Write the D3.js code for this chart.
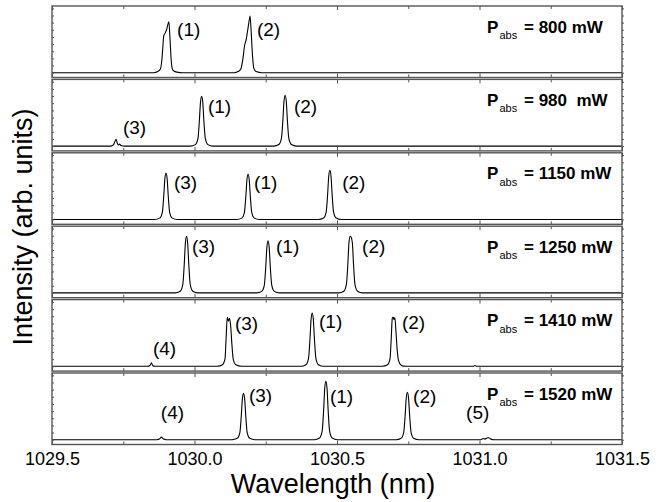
<!DOCTYPE html>
<html>
<head>
<meta charset="utf-8">
<script src="https://cdn.jsdelivr.net/npm/d3@7"></script>
<style>
  body { margin: 0; background: #fff; }
  svg { display: block; font-family: "Liberation Sans", Arial, sans-serif; }
</style>
</head>
<body>
<svg id="chart" width="667" height="502"></svg>
<script>
// Absorbed pump powers, one stacked panel each (top to bottom)
const powerLabels = ["800 mW", "980  mW", "1150 mW", "1250 mW", "1410 mW", "1520 mW"];

// Wavelength axis ticks
const xMajorTicks = [1029.5, 1030.0, 1030.5, 1031.0, 1031.5];
const xMinorTicks = [1029.75, 1030.25, 1030.75, 1031.25];
const xTickLabels = ["1029.5", "1030.0", "1030.5", "1031.0", "1031.5"];
const yTicks = [0, 0.125, 0.25, 0.375, 0.5, 0.625, 0.75, 0.875, 1.0, 1.125];

// Emission spectra: [wavelength (nm), intensity (arb. units)]
const spectrum800 = [
  [1029.5, 0],
  [1029.857, 0], [1029.871, 0.02], [1029.880, 0.06], [1029.885, 0.2], [1029.889, 0.45],
  [1029.892, 0.64], [1029.898, 0.70], [1029.903, 0.77], [1029.9065, 0.84], [1029.910, 0.89],
  [1029.914, 0.6], [1029.9185, 0.2], [1029.922, 0.07], [1029.9275, 0.03], [1029.938, 0.01], [1029.959, 0],
  [1030.139, 0], [1030.153, 0.02], [1030.163, 0.07], [1030.170, 0.25], [1030.176, 0.48],
  [1030.181, 0.57], [1030.186, 0.72], [1030.1915, 0.9], [1030.195, 0.99], [1030.199, 0.7],
  [1030.2035, 0.3], [1030.208, 0.08], [1030.216, 0.02], [1030.237, 0],
  [1031.5, 0]
];
const spectrum980 = [
  [1029.5, 0],
  [1029.705, 0], [1029.715, 0.02], [1029.72, 0.07], [1029.725, 0.12], [1029.729, 0.05],
  [1029.733, 0.02], [1029.737, 0.035], [1029.742, 0.01], [1029.755, 0],
  [1029.985, 0], [1030.003, 0.026], [1030.012, 0.13], [1030.017, 0.435], [1030.021, 0.766], [1030.025, 0.87],
  [1030.029, 0.766], [1030.033, 0.435], [1030.038, 0.13], [1030.047, 0.026], [1030.065, 0],
  [1030.278, 0], [1030.296, 0.027], [1030.305, 0.134], [1030.31, 0.445], [1030.314, 0.783], [1030.318, 0.89],
  [1030.322, 0.783], [1030.326, 0.445], [1030.331, 0.134], [1030.34, 0.027], [1030.358, 0],
  [1031.5, 0]
];
const spectrum1150 = [
  [1029.5, 0],
  [1029.86, 0], [1029.878, 0.024], [1029.887, 0.12], [1029.892, 0.405], [1029.896, 0.713], [1029.9, 0.81],
  [1029.904, 0.713], [1029.908, 0.405], [1029.913, 0.12], [1029.922, 0.024], [1029.94, 0],
  [1030.148, 0], [1030.166, 0.024], [1030.175, 0.119], [1030.18, 0.395], [1030.184, 0.695], [1030.188, 0.79],
  [1030.192, 0.695], [1030.196, 0.395], [1030.201, 0.119], [1030.21, 0.024], [1030.228, 0],
  [1030.435, 0], [1030.453, 0.026], [1030.462, 0.129], [1030.467, 0.43], [1030.471, 0.757], [1030.475, 0.86],
  [1030.479, 0.757], [1030.483, 0.43], [1030.488, 0.129], [1030.497, 0.026], [1030.515, 0],
  [1031.5, 0]
];
const spectrum1250 = [
  [1029.5, 0],
  [1029.932, 0], [1029.95, 0.03], [1029.959, 0.149], [1029.964, 0.495], [1029.968, 0.871], [1029.972, 0.99],
  [1029.976, 0.871], [1029.98, 0.495], [1029.985, 0.149], [1029.994, 0.03], [1030.012, 0],
  [1030.218, 0], [1030.236, 0.027], [1030.245, 0.137], [1030.25, 0.455], [1030.254, 0.8], [1030.258, 0.91],
  [1030.262, 0.8], [1030.266, 0.455], [1030.271, 0.137], [1030.28, 0.027], [1030.298, 0],
  [1030.506, 0], [1030.524, 0.03], [1030.533, 0.149], [1030.538, 0.495], [1030.542, 0.88], [1030.546, 0.99],
  [1030.55, 0.97], [1030.554, 0.871], [1030.558, 0.495], [1030.563, 0.149], [1030.572, 0.03], [1030.59, 0],
  [1031.5, 0]
];
const spectrum1410 = [
  [1029.5, 0],
  [1029.835, 0], [1029.844, 0.015], [1029.849, 0.06], [1029.853, 0.015], [1029.862, 0],
  [1030.08, 0], [1030.098, 0.026], [1030.107, 0.13], [1030.111, 0.5], [1030.115, 0.86], [1030.119, 0.79],
  [1030.123, 0.84], [1030.127, 0.7], [1030.131, 0.4], [1030.136, 0.12], [1030.145, 0.026], [1030.165, 0],
  [1030.373, 0], [1030.391, 0.028], [1030.4, 0.14], [1030.405, 0.465], [1030.409, 0.818], [1030.413, 0.93],
  [1030.417, 0.818], [1030.421, 0.465], [1030.426, 0.14], [1030.435, 0.028], [1030.453, 0],
  [1030.659, 0], [1030.677, 0.026], [1030.686, 0.13], [1030.69, 0.45], [1030.694, 0.84], [1030.697, 0.86],
  [1030.7, 0.82], [1030.703, 0.85], [1030.707, 0.6], [1030.711, 0.3], [1030.716, 0.1], [1030.725, 0.02], [1030.74, 0],
  [1030.978, 0], [1030.984, 0.015], [1030.99, 0],
  [1031.5, 0]
];
const spectrum1520 = [
  [1029.5, 0],
  [1029.868, 0], [1029.878, 0.015], [1029.884, 0.045], [1029.89, 0.015], [1029.9, 0],
  [1030.132, 0], [1030.15, 0.024], [1030.159, 0.12], [1030.164, 0.405], [1030.168, 0.713], [1030.172, 0.81],
  [1030.176, 0.713], [1030.18, 0.405], [1030.185, 0.12], [1030.194, 0.024], [1030.212, 0],
  [1030.421, 0], [1030.439, 0.03], [1030.448, 0.153], [1030.453, 0.51], [1030.457, 0.898], [1030.461, 1.02],
  [1030.465, 0.898], [1030.469, 0.51], [1030.474, 0.153], [1030.483, 0.03], [1030.501, 0],
  [1030.707, 0], [1030.725, 0.025], [1030.734, 0.125], [1030.739, 0.415], [1030.743, 0.73], [1030.747, 0.83],
  [1030.751, 0.73], [1030.755, 0.415], [1030.76, 0.125], [1030.769, 0.025], [1030.787, 0],
  [1031.005, 0], [1031.013, 0.02], [1031.019, 0.01], [1031.026, 0.03], [1031.032, 0.035], [1031.04, 0.01], [1031.05, 0],
  [1031.5, 0]
];

// Line labels: [text, wavelength at label start, intensity at label baseline]
const labels800  = [["(1)", 1029.939, 0.65], ["(2)", 1030.219, 0.65]];
const labels980  = [["(3)", 1029.749, 0.205], ["(1)", 1030.047, 0.57], ["(2)", 1030.349, 0.57]];
const labels1150 = [["(3)", 1029.928, 0.526], ["(1)", 1030.209, 0.526], ["(2)", 1030.518, 0.526]];
const labels1250 = [["(3)", 1029.991, 0.689], ["(1)", 1030.286, 0.689], ["(2)", 1030.588, 0.689]];
const labels1410 = [["(4)", 1029.854, 0.198], ["(3)", 1030.142, 0.643], ["(1)", 1030.437, 0.678], ["(2)", 1030.728, 0.652]];
const labels1520 = [["(4)", 1029.882, 0.355], ["(3)", 1030.191, 0.659], ["(1)", 1030.475, 0.65], ["(2)", 1030.767, 0.65], ["(5)", 1030.953, 0.355]];

const spectra = [spectrum800, spectrum980, spectrum1150, spectrum1250, spectrum1410, spectrum1520];
const lineLabels = [labels800, labels980, labels1150, labels1250, labels1410, labels1520];

// Layout
const plotLeft = 52, plotRight = 622;
const panelTop0 = 6, panelStep = 73.4, panelH = 71.5;
const frameColor = "#555";

const svg = d3.select("#chart");

const x = d3.scaleLinear().domain([1029.5, 1031.5]).range([plotLeft, plotRight]);
const y = d3.scaleLinear().domain([-0.084, 1.166]).range([panelH, 0]);

const line = d3.line()
  .x(d => x(d[0]))
  .y(d => y(d[1]))
  .curve(d3.curveMonotoneX);

function styleAxis(g) {
  g.select(".domain").remove();
  g.selectAll(".tick line").attr("stroke", frameColor).attr("stroke-width", 1);
}

spectra.forEach((data, i) => {
  const top = panelTop0 + i * panelStep;
  const g = svg.append("g").attr("transform", `translate(0,${top})`);

  // spectrum trace
  g.append("path")
    .datum(data)
    .attr("fill", "none")
    .attr("stroke", "#000")
    .attr("stroke-width", 1.1)
    .attr("d", line);

  // inward ticks on top and bottom edges
  g.append("g")
    .call(d3.axisTop(x).tickValues(xMajorTicks).tickSize(-4).tickFormat(""))
    .call(styleAxis);
  g.append("g")
    .call(d3.axisTop(x).tickValues(xMinorTicks).tickSize(-3).tickFormat(""))
    .call(styleAxis);
  g.append("g")
    .attr("transform", `translate(0,${panelH})`)
    .call(d3.axisBottom(x).tickValues(xMajorTicks).tickSize(-4).tickFormat(""))
    .call(styleAxis);
  g.append("g")
    .attr("transform", `translate(0,${panelH})`)
    .call(d3.axisBottom(x).tickValues(xMinorTicks).tickSize(-3).tickFormat(""))
    .call(styleAxis);

  // small intensity ticks on the side edges
  g.append("g")
    .attr("transform", `translate(${plotLeft},0)`)
    .call(d3.axisLeft(y).tickValues(yTicks).tickSize(-2).tickFormat(""))
    .call(styleAxis);
  g.append("g")
    .attr("transform", `translate(${plotRight},0)`)
    .call(d3.axisRight(y).tickValues(yTicks).tickSize(2).tickFormat(""))
    .call(styleAxis);

  // panel frame
  g.append("rect")
    .attr("x", plotLeft).attr("y", 0)
    .attr("width", plotRight - plotLeft).attr("height", panelH)
    .attr("fill", "none")
    .attr("stroke", frameColor)
    .attr("stroke-width", 1.4);

  // peak labels
  g.selectAll("text.peak")
    .data(lineLabels[i])
    .join("text")
    .attr("class", "peak")
    .attr("x", d => x(d[1]))
    .attr("y", d => y(d[2]))
    .attr("font-size", 19)
    .attr("fill", "#000")
    .text(d => d[0]);

  // absorbed power label
  const p = g.append("text")
    .attr("y", 26.5)
    .attr("fill", "#000")
    .style("white-space", "pre");
  p.append("tspan").attr("x", 487).attr("font-size", 17).attr("font-weight", "bold").text("P");
  p.append("tspan").attr("x", 499.5).attr("dy", 6.5).attr("font-size", 11).text("abs");
  p.append("tspan").attr("x", 524).attr("dy", -6.5).attr("font-size", 17).attr("font-weight", "bold")
    .text("= " + powerLabels[i]);

  // wavelength tick labels under the bottom panel
  if (i === spectra.length - 1) {
    const ax = g.append("g")
      .attr("transform", `translate(0,${panelH})`)
      .call(d3.axisBottom(x).tickValues(xMajorTicks).tickSize(0).tickPadding(8)
        .tickFormat((d, k) => xTickLabels[k]));
    ax.select(".domain").remove();
    ax.selectAll("text")
      .attr("font-size", 18)
      .attr("font-family", "\"Liberation Sans\", Arial, sans-serif")
      .attr("fill", "#000");
  }
});

// axis titles
svg.append("text")
  .attr("x", (plotLeft + plotRight) / 2 - 4)
  .attr("y", 492.5)
  .attr("text-anchor", "middle")
  .attr("font-size", 27)
  .attr("fill", "#000")
  .text("Wavelength (nm)");

svg.append("text")
  .attr("transform", "translate(32,227) rotate(-90)")
  .attr("text-anchor", "middle")
  .attr("font-size", 27)
  .attr("fill", "#000")
  .text("Intensity (arb. units)");
</script>
</body>
</html>
